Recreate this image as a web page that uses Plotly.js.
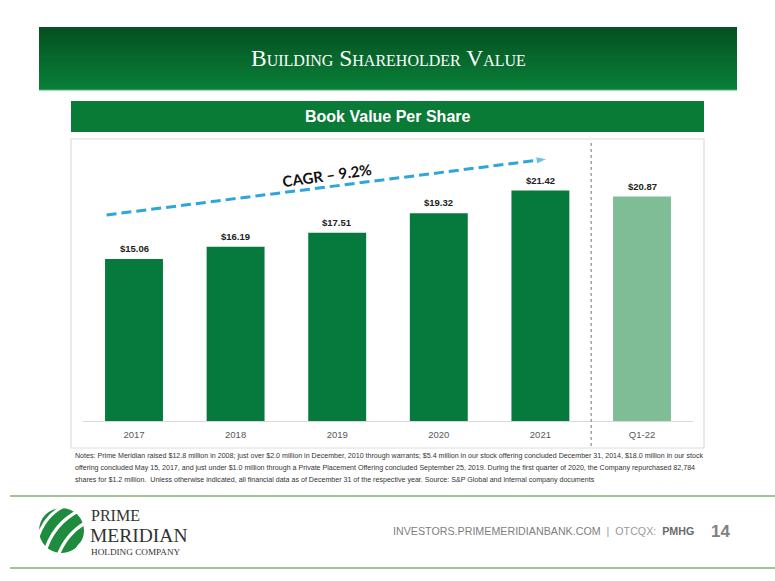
<!DOCTYPE html>
<html>
<head>
<meta charset="utf-8">
<script src="https://cdn.plot.ly/plotly-3.0.1.min.js"></script>
<style>
html,body{margin:0;padding:0;background:#fff;}
#chart{width:775px;height:581px;}
</style>
</head>
<body>
<div id="chart"></div>
<script>
// ---- data ----
const categories = ["2017", "2018", "2019", "2020", "2021", "Q1-22"];
const bookValue = [15.06, 16.19, 17.51, 19.32, 21.42, 20.87];
const interim = [false, false, false, false, false, true];
const cagrLabel = "CAGR \u2013 9.2%";
const notesLines = [
  "Notes: Prime Meridian raised $12.8 million in 2008; just over $2.0 million in December, 2010 through warrants; $5.4 million in our stock offering concluded December 31, 2014, $18.0 million in our stock",
  "offering concluded May 15, 2017, and just under $1.0 million through a Private Placement Offering concluded September 25, 2019. During the first quarter of 2020, the Company repurchased 82,784",
  "shares for $1.2 million.  Unless otherwise indicated, all financial data as of December 31 of the respective year. Source: S&P Global and internal company documents"
];

// ---- helpers (decoration positions in pixels -> paper) ----
const W = 775, H = 581;
const px = v => v / W;
const py = v => 1 - v / H;

const DARK = "#067a3c";
const LIGHT = "#7ebd95";

const xIdx = categories.map((c, i) => i);

const bars = {
  type: "bar",
  x: xIdx,
  y: bookValue,
  width: 0.57,
  marker: {color: interim.map(f => f ? LIGHT : DARK)},
  hoverinfo: "skip",
  showlegend: false
};

// dashed CAGR arrow
const arrow = {
  type: "scatter",
  mode: "lines+markers",
  x: [-0.27, 4.07],
  y: [19.15, 24.36],
  line: {color: "#2ea5dd", width: 3, dash: "10px,5px"},
  marker: {symbol: ["circle", "arrow"], size: [0, 12], color: "#2ea5dd", angleref: "previous"},
  hoverinfo: "skip",
  showlegend: false,
  cliponaxis: false
};

const shapes = [];
// banner gradient (overlapping strips, dark top -> lighter bottom)
const nStrips = 20, bTop = 27, bBot = 90;
const c0 = [5, 80, 33], c1 = [9, 128, 56];
for (let i = 0; i < nStrips; i++) {
  const t = i / (nStrips - 1);
  const c = c0.map((a, k) => Math.round(a + (c1[k] - a) * t));
  const y0 = bTop + (bBot - bTop) * i / nStrips;
  shapes.push({type: "rect", xref: "paper", yref: "paper", x0: px(39), x1: px(737), y0: py(y0), y1: py(bBot),
    fillcolor: `rgb(${c.join(",")})`, line: {width: 0}, layer: "below"});
}
shapes.push({type: "line", xref: "paper", yref: "paper", x0: px(39), x1: px(737), y0: py(90), y1: py(90), line: {color: "#4fb46a", width: 1.2}});
// subheader bar
shapes.push({type: "rect", xref: "paper", yref: "paper", x0: px(71), x1: px(704), y0: py(101), y1: py(132),
  fillcolor: "#0a7a37", line: {width: 0}, layer: "below"});
// chart frame
shapes.push({type: "rect", xref: "paper", yref: "paper", x0: px(71), x1: px(704), y0: py(139), y1: py(448),
  fillcolor: "rgba(0,0,0,0)", line: {color: "#dcdcdc", width: 1.2}, layer: "below"});
// separator dotted line between annual and interim
shapes.push({type: "line", xref: "x", yref: "paper", x0: 4.5, x1: 4.5, y0: py(143), y1: py(448),
  line: {color: "#a0a0a0", width: 1.5, dash: "dot"}});
// footer lines
shapes.push({type: "line", xref: "paper", yref: "paper", x0: px(10), x1: 1, y0: py(496), y1: py(496), line: {color: "#a4c394", width: 2}});
shapes.push({type: "line", xref: "paper", yref: "paper", x0: px(10), x1: 1, y0: py(568), y1: py(568), line: {color: "#a4c394", width: 2}});
// logo ball
const P = (x, y) => `${px(x)},${py(y)}`;
shapes.push({type: "circle", xref: "paper", yref: "paper", x0: px(39), x1: px(84), y0: py(508), y1: py(553),
  fillcolor: "#1f8b3f", line: {width: 0}});
const stripes = [
  `M${P(37,540)} Q${P(44,515)} ${P(66,505)}`,
  `M${P(44,555)} Q${P(52,524)} ${P(80,510)}`,
  `M${P(57,558)} Q${P(66,533)} ${P(87,522)}`,
  `M${P(72,558)} Q${P(78,544)} ${P(88,538)}`
];
stripes.forEach(p => shapes.push({type: "path", xref: "paper", yref: "paper", path: p, line: {color: "#ffffff", width: 3.2}}));

const annotations = [];
const txt = (x, y, text, font, xanchor) => annotations.push({
  x: px(x), y: py(y), xref: "paper", yref: "paper", xanchor: xanchor || "center", yanchor: "middle",
  text: text, showarrow: false, font: font, borderpad: 0
});
// data labels
xIdx.forEach((x, i) => annotations.push({
  x: x, y: bookValue[i], xref: "x", yref: "y", text: "$" + bookValue[i].toFixed(2),
  showarrow: false, xanchor: "center", yanchor: "bottom", yshift: 3,
  font: {family: "Liberation Sans, Arial", size: 9.5, color: "#222", weight: 700}
}));
// CAGR text
annotations.push({x: 1.9, y: 22.9, xref: "x", yref: "y", text: cagrLabel, showarrow: false, textangle: -8,
  xanchor: "center", yanchor: "middle",
  font: {family: "Lato, Open Sans", size: 15, color: "#111", weight: 700}});
// banner title
txt(388, 58, "Building Shareholder Value", {family: "Liberation Serif, Times New Roman", size: 23.5, color: "#fff", variant: "small-caps"});
// subheader
txt(388, 117, "<b>Book Value Per Share</b>", {family: "Liberation Sans, Arial", size: 16, color: "#fff"});
// notes
const noteY = [456, 468, 480];
notesLines.forEach((t, i) => txt(74, noteY[i], t,
  {family: "Liberation Sans Narrow, Arial Narrow, Liberation Sans", size: 7.1, color: "#333"}, "left"));
// logo text
txt(90, 515.5, "PRIME", {family: "Liberation Serif", size: 16, color: "#333"}, "left");
txt(89, 535, "MERIDIAN", {family: "Liberation Serif", size: 19.5, color: "#333"}, "left");
txt(90, 551.5, "HOLDING COMPANY", {family: "Liberation Serif", size: 9.2, color: "#333"}, "left");
// footer text
txt(695, 531, 'INVESTORS.PRIMEMERIDIANBANK.COM  <span style="color:#9a9a9a">|  OTCQX:</span>  <b><span style="color:#6a6a6a">PMHG</span></b>',
  {family: "Liberation Sans", size: 10.7, color: "#808080"}, "right");
txt(720, 531, "<b>14</b>", {family: "Liberation Sans", size: 17, color: "#808080"});

const layout = {
  width: W, height: H,
  margin: {l: 0, r: 0, t: 0, b: 0},
  paper_bgcolor: "#fff",
  plot_bgcolor: "rgba(0,0,0,0)",
  showlegend: false,
  bargap: 0.43,
  xaxis: {
    domain: [83.2 / W, 692.8 / W],
    range: [-0.5, 5.5],
    tickvals: xIdx, ticktext: categories,
    showgrid: false, zeroline: false,
    showline: true, linecolor: "#d9d9d9", linewidth: 1,
    ticks: "", ticklabelstandoff: 5,
    tickfont: {family: "Liberation Sans, Arial", size: 9.5, color: "#595959"},
    fixedrange: true
  },
  yaxis: {
    domain: [py(421), py(145)],
    range: [0, 276 / 10.757],
    visible: false, fixedrange: true
  },
  shapes: shapes,
  annotations: annotations
};

Plotly.newPlot("chart", [bars, arrow], layout, {staticPlot: true, displayModeBar: false});
</script>
</body>
</html>
